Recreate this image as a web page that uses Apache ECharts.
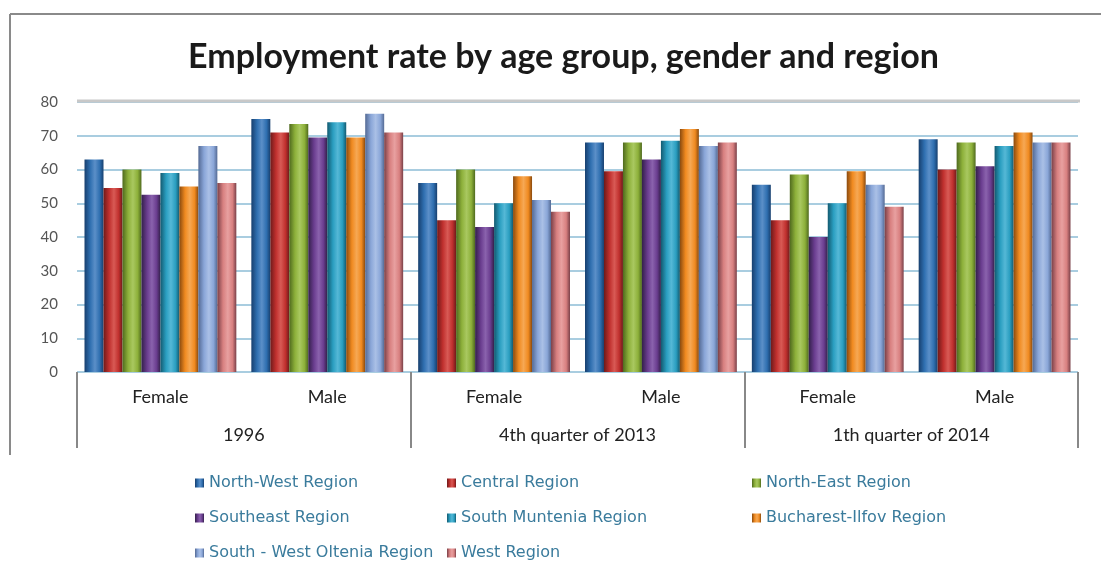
<!DOCTYPE html>
<html><head><meta charset="utf-8">
<script src="https://cdn.jsdelivr.net/npm/echarts@6/dist/echarts.min.js"></script>
<style>html,body{margin:0;padding:0;background:#fff}#c{width:1101px;height:572px}</style>
</head><body><div id="c"></div>
<script>
const titleText = 'Employment rate by age group, gender and region';
const genders = ['Female','Male','Female','Male','Female','Male'];
const periods = ['1996','4th quarter of 2013','1th quarter of 2014'];
const yTicks = [0,10,20,30,40,50,60,70,80];
const regions = ['North-West Region','Central Region','North-East Region','Southeast Region','South Muntenia Region','Bucharest-Ilfov Region','South - West Oltenia Region','West Region'];
const northWest    = [63, 75, 56, 68, 55.5, 69];
const central      = [54.5, 71, 45, 59.5, 45, 60];
const northEast    = [60, 73.5, 60, 68, 58.5, 68];
const southeast    = [52.5, 69.5, 43, 63, 40, 61];
const southMuntenia= [59, 74, 50, 68.5, 50, 67];
const bucharest    = [55, 69.5, 58, 72, 59.5, 71];
const swOltenia    = [67, 76.5, 51, 67, 55.5, 68];
const west         = [56, 71, 47.5, 68, 49, 68];
const seriesValues = [northWest, central, northEast, southeast, southMuntenia, bucharest, swOltenia, west];
const colors = [
  ['#173f6e','#2f6fb0','#5b8fc8'],
  ['#6e1a1a','#c0302e','#d85a55'],
  ['#4f6a1e','#8db03a','#a9c860'],
  ['#33204a','#6a3d8f','#8a62ad'],
  ['#135a70','#2a9ec0','#55b8d6'],
  ['#8a4a0e','#f08a20','#f6a854'],
  ['#546a94','#8aa6d8','#aac0e6'],
  ['#7a4048','#d88080','#e8a0a0']
];
function grad(c){
  return new echarts.graphic.LinearGradient(0,0,1,0,[
    {offset:0,color:c[0]},{offset:0.3,color:c[1]},{offset:0.55,color:c[2]},{offset:0.8,color:c[1]},{offset:1,color:c[0]}
  ]);
}
const chart = echarts.init(document.getElementById('c'), null, {renderer:'canvas'});
const font = 'Lato, "Open Sans", sans-serif';
const legendFont = '"DejaVu Sans", sans-serif';
const legendCols = [[0,3,6],[1,4,7],[2,5]];
const legendLeft = [190, 442, 747];
chart.setOption({
  animation:false,
  backgroundColor:'#fff',
  color: colors.map(c=>c[1]),
  title:{text:titleText,left:183,top:35,textStyle:{fontFamily:font,fontWeight:'bold',fontSize:34,color:'#1a1a1a'}},
  grid:{left:77,right:23,top:102,bottom:200},
  legend: legendCols.map((col,i)=>({
    orient:'vertical',left:legendLeft[i],top:470,itemWidth:9,itemHeight:9,itemGap:19,
    data:col.map(k=>regions[k]),
    textStyle:{fontFamily:legendFont,fontSize:16,lineHeight:16,color:'#3a7b9c'},
    icon:'rect'
  })),
  xAxis:[
    {type:'category',data:genders,position:'bottom',
     axisLine:{show:true,lineStyle:{color:'#a9cde0',width:1}},axisTick:{show:false},
     axisLabel:{fontFamily:font,fontSize:18,color:'#222',margin:16}},
    {type:'category',data:periods,position:'bottom',
     axisLine:{show:false},
     axisTick:{show:true,length:76,inside:false,lineStyle:{color:'#888',width:2}},
     axisLabel:{fontFamily:font,fontSize:18,color:'#222',margin:54},
     splitLine:{show:false}}
  ],
  yAxis:{type:'value',min:0,max:80,interval:10,
    axisLine:{show:false},axisTick:{show:false},
    axisLabel:{fontFamily:font,fontSize:15,color:'#555',margin:19,formatter:v=>yTicks.includes(v)?String(v):''},
    splitLine:{lineStyle:{color:'#a9cde0',width:2}}},
  series: regions.map((name,i)=>({
    name, type:'bar', xAxisIndex:0, data:seriesValues[i],
    barGap:'0%', barCategoryGap:'9%',
    itemStyle:{color:grad(colors[i])}
  })),
  graphic:[
    {type:'line',shape:{x1:10,y1:14,x2:1101,y2:14},style:{stroke:'#8a8a8a',lineWidth:2},z:100},
    {type:'line',shape:{x1:10,y1:14,x2:10,y2:455},style:{stroke:'#8a8a8a',lineWidth:2},z:100},
    {type:'line',shape:{x1:77,y1:101,x2:1080,y2:101},style:{stroke:'#c8c8c8',lineWidth:3},z:100}
  ]
});
</script></body></html>
